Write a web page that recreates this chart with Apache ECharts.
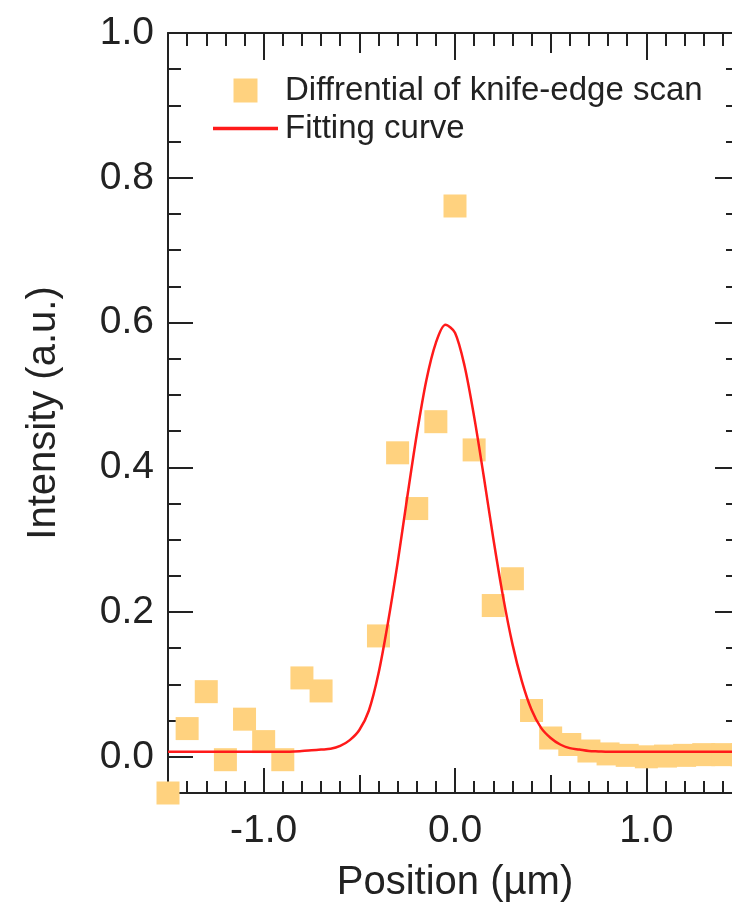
<!DOCTYPE html>
<html>
<head>
<meta charset="utf-8">
<title>Knife-edge scan profile</title>
<script src="https://cdn.jsdelivr.net/npm/echarts@6/dist/echarts.min.js"></script>
<style>
  html, body { margin: 0; padding: 0; background: #ffffff; }
  #chart { width: 732px; height: 905px; }
</style>
</head>
<body>
<div id="chart"></div>
<script>
// Measured points: derivative of the knife-edge scan
const scanX = [-1.5, -1.4, -1.3, -1.2, -1.1, -1.0, -0.9, -0.8, -0.7,
               -0.4, -0.3, -0.2, -0.1, 0.0, 0.1, 0.2, 0.3, 0.4, 0.5,
               0.6, 0.7, 0.8, 0.9, 1.0, 1.1, 1.2, 1.3, 1.4, 1.5];
const scanY = [-0.05, 0.039, 0.090, -0.004, 0.052, 0.021, -0.004, 0.109, 0.091,
               0.167, 0.420, 0.343, 0.463, 0.761, 0.424, 0.209, 0.246, 0.064, 0.026,
               0.017, 0.008, 0.004, 0.002, 0.000, 0.001, 0.002, 0.003, 0.003, 0.003];

// Fitted profile
const fitX = [-1.5, -1.4, -1.3, -1.2, -1.1, -1.0, -0.9, -0.8, -0.75, -0.7, -0.65, -0.6,
              -0.55, -0.5, -0.45, -0.4, -0.35, -0.3, -0.25, -0.2, -0.15, -0.1, -0.05,
              0.0, 0.05, 0.1, 0.15, 0.2, 0.25, 0.3, 0.35, 0.4, 0.45, 0.5, 0.55, 0.6,
              0.65, 0.7, 0.75, 0.8, 0.9, 1.0, 1.1, 1.2, 1.3, 1.4, 1.5];
const fitY = [0.007, 0.007, 0.007, 0.007, 0.007, 0.007, 0.007, 0.008, 0.009, 0.010, 0.011, 0.015,
              0.023, 0.037, 0.064, 0.115, 0.186, 0.268, 0.358, 0.445, 0.520, 0.572, 0.597,
              0.586, 0.540, 0.470, 0.388, 0.302, 0.223, 0.156, 0.104, 0.065, 0.040, 0.026, 0.017, 0.012,
              0.010, 0.008, 0.0075, 0.007, 0.007, 0.007, 0.007, 0.007, 0.007, 0.007, 0.007];

// Tick labels
const xMajorTicks = [-1.0, 0.0, 1.0];
const yMajorTicks = [0.0, 0.2, 0.4, 0.6, 0.8, 1.0];

const FONT = 'Liberation Sans, Arial, Helvetica, sans-serif';
const INK = '#222222';
const MARKER = '#ffd27f';
const FIT = '#ff1a1a';

const zip = (xs, ys) => xs.map((x, i) => [x, ys[i]]);

const lineStyle = { color: INK, width: 2 };

function xAxis(position, opts) {
  return Object.assign({
    type: 'value', position: position, min: -1.5, max: 1.5,
    axisLine: { show: false, onZero: false, lineStyle: lineStyle },
    axisTick: { show: false },
    axisLabel: { show: false },
    splitLine: { show: false },
    minorTick: { show: false },
    minorSplitLine: { show: false }
  }, opts);
}
function yAxis(position, opts) {
  return Object.assign({
    type: 'value', position: position, min: -0.05, max: 1.0,
    axisLine: { show: false, onZero: false, lineStyle: lineStyle },
    axisTick: { show: false },
    axisLabel: { show: false },
    splitLine: { show: false },
    minorTick: { show: false },
    minorSplitLine: { show: false }
  }, opts);
}

const chart = echarts.init(document.getElementById('chart'), null, { renderer: 'canvas' });

chart.setOption({
  backgroundColor: '#ffffff',
  animation: false,
  grid: { left: 168, right: -10, top: 33, bottom: 112, outerBoundsMode: 'none', containLabel: false },
  legend: {
    orient: 'vertical', left: 208, top: 69,
    itemWidth: 65, itemHeight: 24, itemGap: 5,
    symbolKeepAspect: true,
    textStyle: { fontFamily: FONT, fontSize: 33, color: INK, padding: [0, 0, 0, 2] },
    data: [
      // square marker centred in the icon slot
      { name: 'Diffrential of knife-edge scan', icon: 'path://M0,0H10V10H0Z' },
      // plain stroke for the fitted curve
      { name: 'Fitting curve', icon: 'path://M0,0H65V3.5H0Z' }
    ]
  },
  xAxis: [
    // bottom: line, 0.5 ticks, 0.1 minor ticks, labels
    xAxis('bottom', {
      interval: 0.5,
      name: 'Position (µm)', nameLocation: 'middle', nameGap: 70,
      nameTextStyle: { fontFamily: FONT, fontSize: 40, color: INK },
      axisLine: { show: true, onZero: false, lineStyle: lineStyle },
      axisTick: { show: true, inside: true, length: 18, lineStyle: lineStyle },
      minorTick: { show: true, splitNumber: 5, length: 12, lineStyle: lineStyle },
      axisLabel: {
        show: true, customValues: xMajorTicks, margin: 19,
        fontFamily: FONT, fontSize: 39, color: INK,
        formatter: v => v.toFixed(1)
      }
    }),
    // bottom: long ticks at whole units
    xAxis('bottom', {
      axisTick: { show: true, inside: true, length: 25, customValues: xMajorTicks, lineStyle: lineStyle }
    }),
    // top frame
    xAxis('top', {
      interval: 0.5,
      axisLine: { show: true, onZero: false, lineStyle: lineStyle },
      axisTick: { show: true, inside: true, length: 20, lineStyle: lineStyle },
      minorTick: { show: true, splitNumber: 5, length: 13, lineStyle: lineStyle }
    }),
    xAxis('top', {
      axisTick: { show: true, inside: true, length: 27, customValues: xMajorTicks, lineStyle: lineStyle }
    })
  ],
  yAxis: [
    yAxis('left', {
      name: 'Intensity (a.u.)', nameLocation: 'middle', nameGap: 104, nameRotate: 90,
      nameTextStyle: { fontFamily: FONT, fontSize: 40, color: INK },
      axisLine: { show: true, onZero: false, lineStyle: lineStyle },
      axisTick: { show: true, inside: true, length: 25, customValues: yMajorTicks, lineStyle: lineStyle },
      axisLabel: {
        show: true, customValues: yMajorTicks, margin: 14,
        fontFamily: FONT, fontSize: 39, color: INK,
        formatter: v => v.toFixed(1)
      }
    }),
    yAxis('left', {
      interval: 0.05,
      axisTick: { show: true, inside: true, length: 13, lineStyle: lineStyle }
    }),
    yAxis('right', {
      axisLine: { show: true, onZero: false, lineStyle: lineStyle },
      axisTick: { show: true, inside: true, length: 27, customValues: yMajorTicks, lineStyle: lineStyle }
    }),
    yAxis('right', {
      interval: 0.05,
      axisTick: { show: true, inside: true, length: 16, lineStyle: lineStyle }
    })
  ],
  series: [
    {
      name: 'Diffrential of knife-edge scan',
      type: 'scatter',
      xAxisIndex: 0, yAxisIndex: 0,
      symbol: 'rect', symbolSize: 23,
      itemStyle: { color: MARKER, opacity: 1 },
      data: zip(scanX, scanY),
      z: 2
    },
    {
      name: 'Fitting curve',
      type: 'line',
      xAxisIndex: 0, yAxisIndex: 0,
      symbol: 'none', smooth: 0.3,
      lineStyle: { color: FIT, width: 2.5 },
      itemStyle: { color: FIT },
      data: zip(fitX, fitY),
      z: 3
    }
  ]
});
</script>
</body>
</html>
